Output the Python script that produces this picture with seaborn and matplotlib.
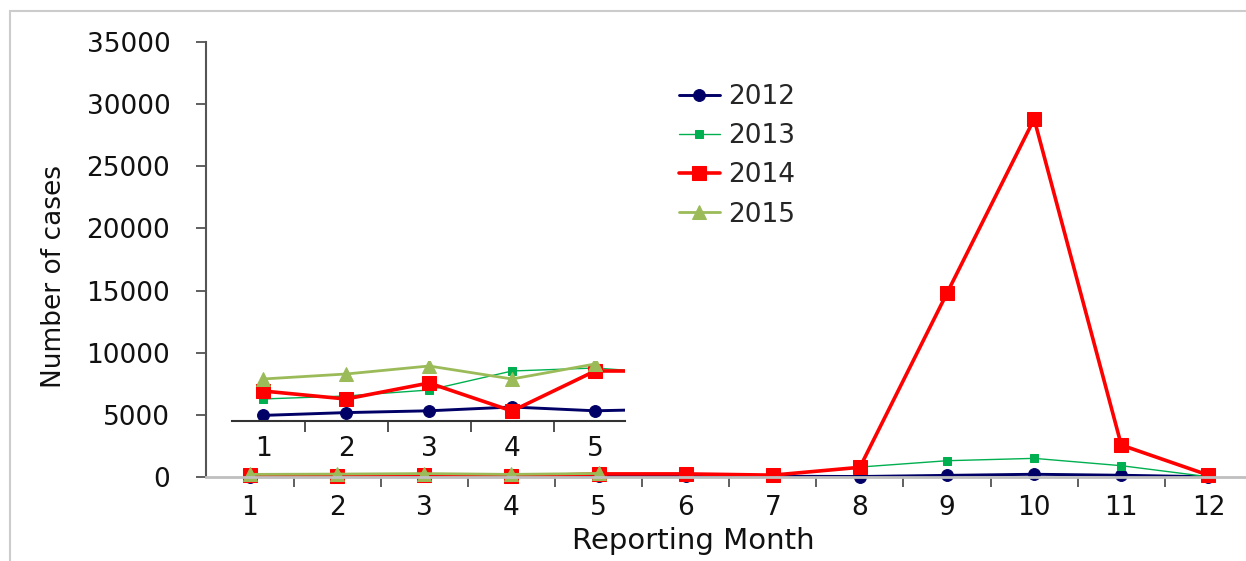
import matplotlib
matplotlib.use('Agg')
import matplotlib.pyplot as plt
from matplotlib.patches import Rectangle
from matplotlib.ticker import FixedLocator
import seaborn as sns

sns.set_theme(style='white')
plt.rcParams['font.family'] = ['DejaVu Sans']

# monthly case counts
months = list(range(1, 13))
years = ['2012', '2013', '2014', '2015']
cases_2012 = [28, 42, 51, 70, 51, 60, 60, 40, 130, 220, 140, 20]
cases_2013 = [110, 125, 155, 250, 265, 235, 120, 800, 1310, 1500, 910, 20]
cases_2014 = [150, 110, 190, 50, 250, 250, 150, 780, 14800, 28800, 2570, 150]
cases_2015 = [210, 235, 275, 210, 285]
y_ticks = [0, 5000, 10000, 15000, 20000, 25000, 30000, 35000]
inset_months = [1, 2, 3, 4, 5, 6]

series = [cases_2012, cases_2013, cases_2014, cases_2015]
styles = {
    '2012': dict(color='#000066', marker='o', markersize=8.5, linewidth=2.1),
    '2013': dict(color='#00b050', marker='s', markersize=5.5, linewidth=1.0),
    '2014': dict(color='#ff0000', marker='s', markersize=9.5, linewidth=2.6),
    '2015': dict(color='#9bbb59', marker='^', markersize=9.5, linewidth=2.0),
}

W, H = 1246, 561
fig = plt.figure(figsize=(W / 100, H / 100), dpi=100)

# main axes
ax = fig.add_axes([206.4 / W, (H - 477) / H, (1252 - 206.4) / W, (477 - 42) / H])
for yr, vals in zip(years, series):
    st = styles[yr]
    sns.lineplot(x=months[:len(vals)], y=vals, ax=ax, label=yr, clip_on=False,
                 markeredgecolor=st['color'], **st)

ax.set_xlim(0.5, 12.5)
ax.set_ylim(0, 35000)
ax.set_yticks(y_ticks)
ax.set_yticklabels([str(v) for v in y_ticks])
ax.set_xticks(months)
ax.xaxis.set_minor_locator(FixedLocator([m + 0.5 for m in months[:-1]]))
ax.tick_params(axis='x', which='major', length=0, pad=13, labelsize=19, labelcolor='#111111')
ax.tick_params(axis='x', which='minor', bottom=True, length=7, width=1.2, color='#444444', direction='out')
ax.tick_params(axis='y', left=True, length=7, width=1.2, color='#444444', direction='out',
               pad=19, labelsize=19, labelcolor='#111111')
for s in ['top', 'right']:
    ax.spines[s].set_visible(False)
ax.spines['left'].set_color('#555555')
ax.spines['left'].set_linewidth(1.5)
ax.spines['bottom'].set_color('#bfbfbf')
ax.spines['bottom'].set_linewidth(2)

ax.set_xlabel('Reporting Month', fontsize=21, color='#111111')
ax.set_ylabel('Number of cases', fontsize=19, color='#111111')
ax.xaxis.set_label_coords(0.4654, -0.116)
ax.yaxis.set_label_coords(-0.133, 0.46)

handles, labels = ax.get_legend_handles_labels()
ax.legend(handles, labels, loc='upper left', bbox_to_anchor=(679 / W, 1 - 84 / H),
          bbox_transform=fig.transFigure, frameon=False, fontsize=19,
          handlelength=1.55, handletextpad=0.3, labelspacing=0.5,
          borderpad=0, borderaxespad=0)

# inset with the first months zoomed in
ins = fig.add_axes([232 / W, (H - 421) / H, (625 - 232) / W, 60 / H])
ins.patch.set_alpha(0)
for yr, vals in zip(years, series):
    st = styles[yr]
    n = min(len(vals), len(inset_months))
    sns.lineplot(x=inset_months[:n], y=vals[:n], ax=ins, legend=False,
                 markeredgecolor=st['color'], **st)
ins.set_xlim(0.6265, 5.361)
ins.set_ylim(0, 300)
ins.set_xticks([1, 2, 3, 4, 5])
ins.xaxis.set_minor_locator(FixedLocator([1.5, 2.5, 3.5, 4.5]))
ins.tick_params(axis='x', which='major', length=0, pad=11, labelsize=19, labelcolor='#111111')
ins.tick_params(axis='x', which='minor', bottom=True, length=8, width=1.2, color='#333333', direction='out')
ins.set_yticks([])
ins.set_xlabel('')
ins.set_ylabel('')
for s in ['top', 'right', 'left']:
    ins.spines[s].set_visible(False)
ins.spines['bottom'].set_color('#333333')
ins.spines['bottom'].set_linewidth(1.5)

# light frame around the picture
fig.patches.append(Rectangle((10 / W, -0.1), 1.2, 1.1 - 11 / H, transform=fig.transFigure,
                             fill=False, edgecolor='#cccccc', linewidth=1.5))

fig.savefig('out.png', dpi=100)
